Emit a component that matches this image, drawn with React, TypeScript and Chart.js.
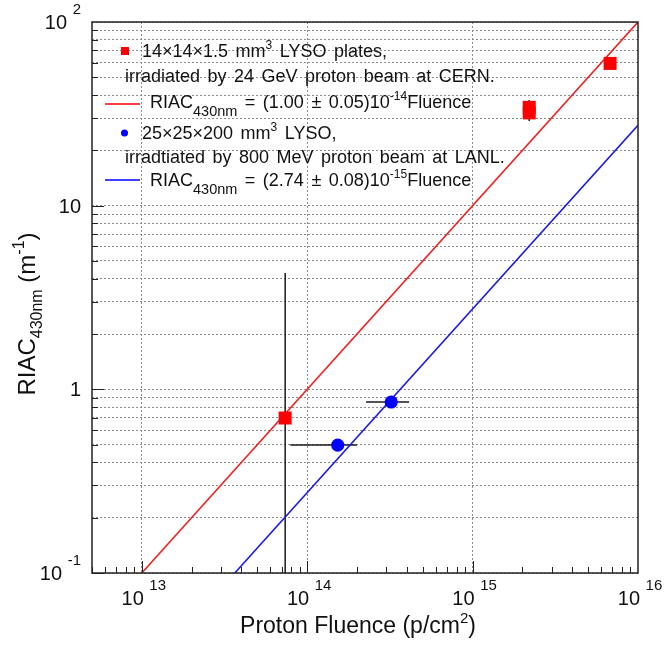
import { useEffect, useRef } from 'react';
import { Chart, registerables } from 'chart.js';

Chart.register(...registerables);

// ---- axis ranges ----
const xMin = 5e12;
const xMax = 1e16;
const yMin = 0.1;
const yMax = 100;

// ---- CERN plates (red squares) ----
const cernFluence = [7.36e13, 2.2e15, 2.2e15, 6.78e15];
const cernRiac = [0.698, 34.3, 32.0, 59.5];
const cernRiacLow = [0.05, 34.3, 28.9, 59.5];
const cernRiacHigh = [4.3, 37.6, 32.0, 59.5];

// ---- LANL crystals (blue dots) ----
const lanlFluence = [1.53e14, 3.22e14];
const lanlRiac = [0.497, 0.853];
const lanlFluenceLow = [7.9e13, 2.27e14];
const lanlFluenceHigh = [2.0e14, 4.13e14];

// ---- fit lines (end points) ----
const cernFitFluence = [1e13, 1e16];
const cernFitRiac = [0.1, 100];
const lanlFitFluence = [3.65e13, 1e16];
const lanlFitRiac = [0.1, 27.4];

// ---- ticks ----
const xMajorTicks = [1e13, 1e14, 1e15, 1e16];
const xMajorExponents = ['13', '14', '15', '16'];
const xDecades = [1e12, 1e13, 1e14, 1e15];
const yMajorTicks = [0.1, 1, 10, 100];
const yMajorBase = ['10', '1', '10', '10'];
const yMajorExponents = ['-1', '', '', '2'];
const yDecades = [0.1, 1, 10];
const minorMultipliers = [1, 2, 3, 4, 5, 6, 7, 8, 9];

const FONT = '"Liberation Sans", Arial, Helvetica, sans-serif';

type Part = { t: string; s: number; dy?: number };

function richWidth(ctx: CanvasRenderingContext2D, parts: Part[]) {
  let w = 0;
  for (const p of parts) {
    ctx.font = `${p.s}px ${FONT}`;
    w += ctx.measureText(p.t).width;
  }
  return w;
}

function drawRich(ctx: CanvasRenderingContext2D, x: number, y: number, parts: Part[], align: 'left' | 'center' | 'right' = 'left') {
  const w = richWidth(ctx, parts);
  let cx = align === 'left' ? x : align === 'center' ? x - w / 2 : x - w;
  ctx.textAlign = 'left';
  ctx.textBaseline = 'alphabetic';
  for (const p of parts) {
    ctx.font = `${p.s}px ${FONT}`;
    ctx.fillText(p.t, cx, y + (p.dy || 0));
    cx += ctx.measureText(p.t).width;
  }
}

const LS = 18; // legend font size
const LSUB = 14.5;
const LSUP = 12;

const legendPlugin = {
  id: 'rootDecor',
  beforeDatasetsDraw(chart: any) {
    const ctx: CanvasRenderingContext2D = chart.ctx;
    const xs = chart.scales.x;
    const ys = chart.scales.y;
    const a = chart.chartArea;
    ctx.save();
    ctx.beginPath();
    ctx.rect(a.left, a.top, a.right - a.left, a.bottom - a.top);
    ctx.clip();
    ctx.strokeStyle = '#1a1a1a';
    ctx.lineWidth = 1.5;
    // vertical error bars (CERN)
    for (let i = 0; i < cernFluence.length; i++) {
      const px = xs.getPixelForValue(cernFluence[i]);
      ctx.beginPath();
      ctx.moveTo(px, ys.getPixelForValue(cernRiacLow[i]));
      ctx.lineTo(px, ys.getPixelForValue(cernRiacHigh[i]));
      ctx.stroke();
    }
    // horizontal error bars (LANL)
    for (let i = 0; i < lanlFluence.length; i++) {
      const py = ys.getPixelForValue(lanlRiac[i]);
      ctx.beginPath();
      ctx.moveTo(xs.getPixelForValue(lanlFluenceLow[i]), py);
      ctx.lineTo(xs.getPixelForValue(lanlFluenceHigh[i]), py);
      ctx.stroke();
    }
    ctx.restore();
  },
  afterDraw(chart: any) {
    const ctx: CanvasRenderingContext2D = chart.ctx;
    const xs = chart.scales.x;
    const ys = chart.scales.y;
    const a = chart.chartArea;
    ctx.save();
    // frame
    ctx.strokeStyle = '#222';
    ctx.lineWidth = 1.5;
    ctx.strokeRect(a.left, a.top, a.right - a.left, a.bottom - a.top);
    // tick marks
    ctx.lineWidth = 1;
    ctx.beginPath();
    for (const d of xDecades) {
      for (const m of minorMultipliers) {
        const v = d * m;
        if (v < xMin || v > xMax) continue;
        const px = Math.round(xs.getPixelForValue(v)) + 0.5;
        const len = m === 1 ? 12 : 6;
        ctx.moveTo(px, a.bottom);
        ctx.lineTo(px, a.bottom - len);
      }
    }
    for (const d of yDecades) {
      for (const m of minorMultipliers) {
        const v = d * m;
        if (v < yMin || v > yMax) continue;
        const py = Math.round(ys.getPixelForValue(v)) + 0.5;
        const len = m === 1 ? 12 : 6;
        ctx.moveTo(a.left, py);
        ctx.lineTo(a.left + len, py);
      }
    }
    ctx.stroke();

    ctx.fillStyle = '#111';
    // x tick labels
    xMajorTicks.forEach((v, i) => {
      const px = xs.getPixelForValue(v);
      drawRich(ctx, px + 2, 605, [
        { t: '10 ', s: 20 },
        { t: xMajorExponents[i], s: 15, dy: -15 },
      ], 'center');
    });
    // y tick labels
    yMajorTicks.forEach((v, i) => {
      const py = ys.getPixelForValue(v);
      const parts: Part[] = [{ t: yMajorBase[i], s: 20 }];
      if (yMajorExponents[i]) {
        parts[0].t = yMajorBase[i] + ' ';
        parts.push({ t: yMajorExponents[i], s: 15, dy: -15 });
      }
      drawRich(ctx, 81, py + 7, parts, 'right');
    });

    // axis titles
    drawRich(ctx, 358, 633, [
      { t: 'Proton Fluence (p/cm', s: 23 },
      { t: '2', s: 15, dy: -10 },
      { t: ')', s: 23 },
    ], 'center');
    ctx.save();
    ctx.translate(35, 314);
    ctx.rotate(-Math.PI / 2);
    drawRich(ctx, 0, 0, [
      { t: 'RIAC', s: 24 },
      { t: '430nm', s: 16, dy: 7 },
      { t: ' (m', s: 24 },
      { t: '-1', s: 16, dy: -11 },
      { t: ')', s: 24 },
    ], 'center');
    ctx.restore();

    // legend
    const c: any = ctx;
    if ('wordSpacing' in c) c.wordSpacing = '2.5px';
    ctx.fillStyle = '#ff0000';
    ctx.fillRect(121, 47, 8, 8);
    ctx.fillStyle = '#0000ff';
    ctx.beginPath();
    ctx.arc(124.5, 133, 3.5, 0, Math.PI * 2);
    ctx.fill();
    ctx.lineWidth = 1.5;
    ctx.strokeStyle = '#ff0000';
    ctx.beginPath();
    ctx.moveTo(105, 104);
    ctx.lineTo(140, 104);
    ctx.stroke();
    ctx.strokeStyle = '#0000ff';
    ctx.beginPath();
    ctx.moveTo(105, 180);
    ctx.lineTo(140, 180);
    ctx.stroke();

    ctx.fillStyle = '#111';
    drawRich(ctx, 142, 57, [
      { t: '14×14×1.5 mm', s: LS },
      { t: '3', s: LSUP, dy: -8 },
      { t: ' LYSO plates,', s: LS },
    ]);
    drawRich(ctx, 125, 82, [{ t: 'irradiated by 24 GeV proton beam at CERN.', s: LS }]);
    drawRich(ctx, 150, 108, [
      { t: 'RIAC', s: LS },
      { t: '430nm', s: LSUB, dy: 8 },
      { t: ' = (1.00 ± 0.05)10', s: LS },
      { t: '-14', s: LSUP, dy: -8 },
      { t: 'Fluence', s: LS },
    ]);
    drawRich(ctx, 142, 139, [
      { t: '25×25×200 mm', s: LS },
      { t: '3', s: LSUP, dy: -8 },
      { t: ' LYSO,', s: LS },
    ]);
    drawRich(ctx, 125, 163, [{ t: 'irradtiated by 800 MeV proton beam at LANL.', s: LS }]);
    drawRich(ctx, 150, 186, [
      { t: 'RIAC', s: LS },
      { t: '430nm', s: LSUB, dy: 8 },
      { t: ' = (2.74 ± 0.08)10', s: LS },
      { t: '-15', s: LSUP, dy: -8 },
      { t: 'Fluence', s: LS },
    ]);
    if ('wordSpacing' in c) c.wordSpacing = '0px';
    ctx.restore();
  },
};

const xGridValues = xMajorTicks.slice(0, 3);
const yGridValues: number[] = [];
for (const d of yDecades) for (const m of minorMultipliers) yGridValues.push(d * m);
yGridValues.push(100);

export default function App() {
  const ref = useRef<HTMLCanvasElement | null>(null);
  useEffect(() => {
    if (!ref.current) return;
    const pts = (xa: number[], ya: number[]) => xa.map((x, i) => ({ x, y: ya[i] }));
    const chart = new Chart(ref.current, {
      type: 'scatter',
      data: {
        datasets: [
          {
            label: 'CERN fit',
            data: pts(cernFitFluence, cernFitRiac),
            showLine: true,
            borderColor: '#ee2222',
            borderWidth: 1.6,
            pointRadius: 0,
            order: 3,
          },
          {
            label: 'LANL fit',
            data: pts(lanlFitFluence, lanlFitRiac),
            showLine: true,
            borderColor: '#1a1ae6',
            borderWidth: 1.6,
            pointRadius: 0,
            order: 3,
          },
          {
            label: 'CERN',
            data: pts(cernFluence, cernRiac),
            pointStyle: 'rect',
            pointRadius: 9.2,
            backgroundColor: '#ff0000',
            borderWidth: 0,
            order: 1,
          },
          {
            label: 'LANL',
            data: pts(lanlFluence, lanlRiac),
            pointStyle: 'circle',
            pointRadius: 6.6,
            backgroundColor: '#0000ff',
            borderWidth: 0,
            order: 1,
          },
        ],
      } as any,
      options: {
        animation: false,
        responsive: false,
        maintainAspectRatio: false,
        layout: { padding: { left: 92, right: 30, top: 22, bottom: 77 } },
        plugins: { legend: { display: false }, tooltip: { enabled: false } },
        scales: {
          x: {
            type: 'logarithmic',
            min: xMin,
            max: xMax,
            ticks: { display: false },
            grid: { color: '#8c8c8c', lineWidth: 1, drawTicks: false },
            border: { display: false, dash: [2, 2] },
            afterBuildTicks: (s: any) => {
              s.ticks = xGridValues.map((v) => ({ value: v }));
            },
          },
          y: {
            type: 'logarithmic',
            min: yMin,
            max: yMax,
            ticks: { display: false },
            grid: { color: '#8c8c8c', lineWidth: 1, drawTicks: false },
            border: { display: false, dash: [2, 2] },
            afterBuildTicks: (s: any) => {
              s.ticks = yGridValues.map((v) => ({ value: v }));
            },
          },
        },
      } as any,
      plugins: [legendPlugin],
    });
    return () => chart.destroy();
  }, []);
  return (
    <div style={{ position: 'fixed', left: 0, top: 0, width: 668, height: 650, background: '#fff' }}>
      <canvas ref={ref} width={668} height={650} style={{ width: 668, height: 650 }} />
    </div>
  );
}
